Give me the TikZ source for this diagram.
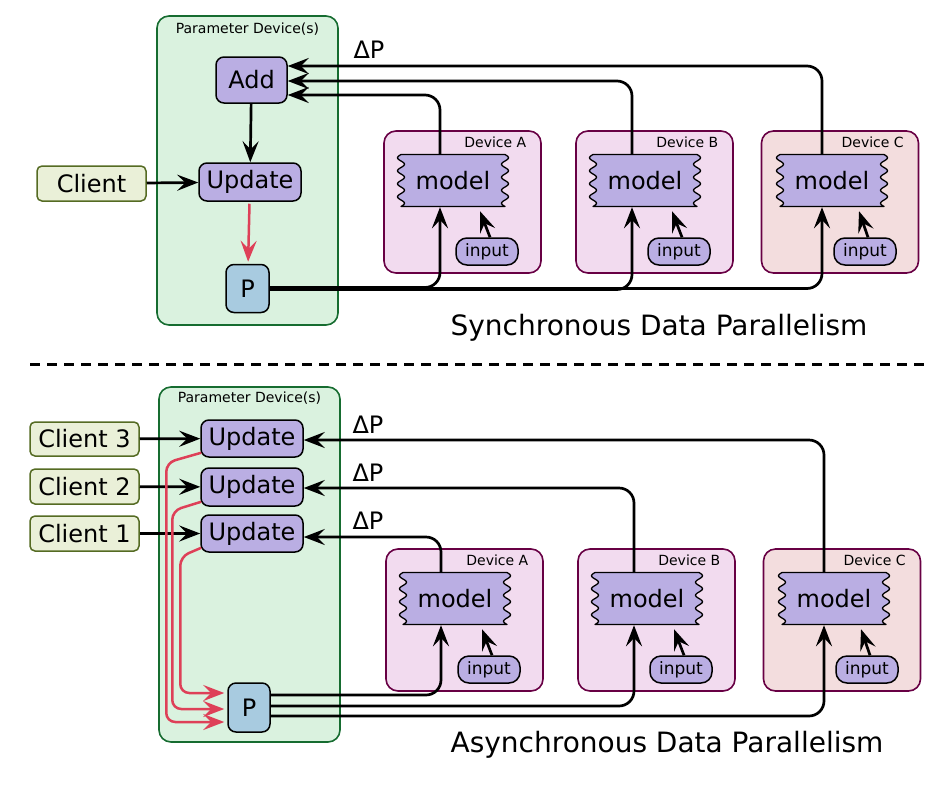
\documentclass[tikz,border=0pt]{standalone}
\usepackage{fontspec}
\setmainfont{DejaVu Sans}
\usetikzlibrary{arrows.meta,positioning}
\definecolor{pdevfill}{RGB}{218,242,223}
\definecolor{pdevdraw}{RGB}{22,108,48}
\definecolor{opfill}{RGB}{186,174,227}
\definecolor{pfill}{RGB}{168,203,224}
\definecolor{clientfill}{RGB}{234,240,216}
\definecolor{clientdraw}{RGB}{85,107,35}
\definecolor{devfill}{RGB}{242,219,239}
\definecolor{devcfill}{RGB}{243,221,222}
\definecolor{devdraw}{RGB}{104,0,68}
\definecolor{arrowred}{RGB}{222,64,88}
\tikzset{
  block/.style    = {shape=rectangle, rounded corners=8pt, draw, line width=1.5pt,
                     inner sep=0pt, font=\fontsize{24}{28}\selectfont},
  op/.style       = {block, fill=opfill, minimum width=102pt, minimum height=38pt},
  param/.style    = {block, fill=pfill, minimum width=43pt, minimum height=48pt},
  client/.style   = {block, fill=clientfill, draw=clientdraw, rounded corners=5pt,
                     minimum width=109pt, minimum height=35pt},
  pdevice/.style  = {shape=rectangle, rounded corners=12pt, draw=pdevdraw, fill=pdevfill,
                     line width=1.6pt, minimum width=181pt},
  device/.style   = {shape=rectangle, rounded corners=12pt, draw=devdraw, fill=devfill,
                     line width=1.6pt, minimum width=157pt, minimum height=142pt},
  inputbox/.style = {block, fill=opfill, rounded corners=11pt, minimum width=62pt,
                     minimum height=27pt, font=\fontsize{17}{20}\selectfont},
  smalllabel/.style = {font=\fontsize{14}{16}\selectfont},
  biglabel/.style = {font=\fontsize{24}{28}\selectfont},
  title/.style    = {font=\fontsize{28}{32}\selectfont},
  conn/.style     = {draw, line width=2.7pt, -{Stealth[length=21pt,width=16pt,inset=8pt]}},
  redconn/.style  = {conn, draw=arrowred, line width=2.5pt},
}
% model box with wavy sides
\newcommand\modelnode[3]{%
  \begin{scope}[shift={(#2,#3)}]
    \draw[fill=opfill, line width=1.3pt, line join=round] (-52,-26) -- (52,-26)
      -- plot[domain=-26:26, samples=61] ({52+3.5*sin(27.69*(\x+26))}, \x)
      -- (-52,26)
      -- plot[domain=26:-26, samples=61] ({-52-3.5*sin(27.69*(\x+26))}, \x) -- cycle;
  \end{scope}
  \node (#1) at (#2,#3) [biglabel, inner sep=0pt, minimum width=110pt, minimum height=53pt] {model};
}

\begin{document}
\begin{tikzpicture}[x=1pt, y=-1pt]
    \useasboundingbox (0,0) rectangle (945,785);

    % ---- synchronous ----
    \node [pdevice, minimum height=309pt] (pd1) at (247.5,170.5) {};
    \node [smalllabel] (pd1lbl) at ([yshift=-14pt]pd1.north) {Parameter Device(s)};
    \node [op, minimum width=71pt, minimum height=46pt] (add) at (251.5,80) {Add};
    \node [op] (upd) at (250,182) {Update};
    \node [param] (p1) at (247.5,288.5) {P};
    \node [client] (client) at (91.5,183.5) {Client};

    \node [device] (devA1) at (462.5,202) {};
    \node [device] (devB1) at (654.5,202) {};
    \node [device, fill=devcfill] (devC1) at (840,202) {};
    \node [smalllabel, anchor=east] (devA1lbl) at ([xshift=-12pt,yshift=-12pt]devA1.north east) {Device A};
    \node [smalllabel, anchor=east] (devB1lbl) at ([xshift=-12pt,yshift=-12pt]devB1.north east) {Device B};
    \node [smalllabel, anchor=east] (devC1lbl) at ([xshift=-12pt,yshift=-12pt]devC1.north east) {Device C};
    \modelnode{mA1}{453}{180.5}
    \modelnode{mB1}{645}{180.5}
    \modelnode{mC1}{832}{180.5}
    \node [inputbox] (inA1) at (487,251.5) {input};
    \node [inputbox] (inB1) at (679,251.5) {input};
    \node [inputbox] (inC1) at (865,251.5) {input};

    \draw [conn] (client) -- (upd);
    \draw [conn] (add) -- (upd);
    \draw [redconn, shorten <=2pt, shorten >=2pt] (upd) -- (p1);
    \draw [conn, rounded corners=15pt] ([xshift=-13pt]mA1.north) |- ([yshift=-15pt]add.east);
    \draw [conn, rounded corners=15pt] ([xshift=-13pt]mB1.north) |- ([yshift=-1pt]add.east);
    \draw [conn, rounded corners=15pt] ([xshift=-10pt]mC1.north) |- ([yshift=14pt]add.east);
    \draw [conn, rounded corners=15pt] ([yshift=1pt]p1.east) -| ([xshift=-13pt]mA1.south);
    \draw [conn, rounded corners=15pt] ([yshift=-1pt]p1.east) -| ([xshift=-13pt]mB1.south);
    \draw [conn, rounded corners=15pt] (p1.east) -| ([xshift=-10pt]mC1.south);
    \draw [conn] ([xshift=3pt]inA1.north) -- ([xshift=27pt,yshift=-4pt]mA1.south);
    \draw [conn] ([xshift=3pt]inB1.north) -- ([xshift=27pt,yshift=-4pt]mB1.south);
    \draw [conn] ([xshift=3pt]inC1.north) -- ([xshift=27pt,yshift=-4pt]mC1.south);
    \node [biglabel] (dp1) at (369,50) {ΔP};
    \node [title] (synctitle) at (659,328) {Synchronous Data Parallelism};

    \draw [line width=3pt, dash pattern=on 10pt off 7pt] (30,364) -- (930,364);

    % ---- asynchronous ----
    \node [pdevice, minimum height=355pt] (pd2) at (249.5,564.5) {};
    \node [smalllabel] (pd2lbl) at ([yshift=-12pt]pd2.north) {Parameter Device(s)};
    \node [op, minimum height=37pt] (upd3) at (252,438.5) {Update};
    \node [op] (upd2) at (252,487) {Update};
    \node [op, minimum height=37pt] (upd1) at (252,533.5) {Update};
    \node [param, minimum width=42pt, minimum height=49pt] (p2) at (249,707.5) {P};
    \node [client, minimum height=34pt] (client3) at (84.5,439) {Client 3};
    \node [client] (client2) at (84.5,486.5) {Client 2};
    \node [client] (client1) at (84.5,533.5) {Client 1};

    \node [device] (devA2) at (464.5,620) {};
    \node [device] (devB2) at (656.5,620) {};
    \node [device, fill=devcfill] (devC2) at (842,620) {};
    \node [smalllabel, anchor=east] (devA2lbl) at ([xshift=-12pt,yshift=-12pt]devA2.north east) {Device A};
    \node [smalllabel, anchor=east] (devB2lbl) at ([xshift=-12pt,yshift=-12pt]devB2.north east) {Device B};
    \node [smalllabel, anchor=east] (devC2lbl) at ([xshift=-12pt,yshift=-12pt]devC2.north east) {Device C};
    \modelnode{mA2}{455}{598.5}
    \modelnode{mB2}{647}{598.5}
    \modelnode{mC2}{834}{598.5}
    \node [inputbox] (inA2) at (489,669.5) {input};
    \node [inputbox] (inB2) at (681,669.5) {input};
    \node [inputbox] (inC2) at (867,669.5) {input};

    \draw [conn] (client3) -- (upd3);
    \draw [conn] (client2) -- (upd2);
    \draw [conn] (client1) -- (upd1);
    \draw [redconn, rounded corners=9pt, shorten >=3pt] ([xshift=1pt,yshift=5pt]upd3.south west)
        -- ++(-35,10) |- ([yshift=-14.5pt]p2.west);
    \draw [redconn, rounded corners=9pt, shorten >=3pt] ([xshift=1pt,yshift=5pt]upd2.south west)
        -- ++(-29,9) |- ([yshift=-1.5pt]p2.west);
    \draw [redconn, rounded corners=9pt, shorten >=3pt] ([xshift=1pt,yshift=5pt]upd1.south west)
        -- ++(-21,9) |- ([yshift=14.5pt]p2.west);
    \draw [conn, rounded corners=15pt] ([xshift=-14pt]mA2.north) |- ([yshift=-3.5pt]upd1.east);
    \draw [conn, rounded corners=15pt] ([xshift=-13pt]mB2.north) |- ([yshift=-1pt]upd2.east);
    \draw [conn, rounded corners=15pt] ([xshift=-10pt]mC2.north) |- ([yshift=-1.5pt]upd3.east);
    \draw [conn, rounded corners=15pt] ([yshift=12.5pt]p2.east) -| ([xshift=-14pt]mA2.south);
    \draw [conn, rounded corners=15pt] ([yshift=1.5pt]p2.east) -| ([xshift=-13pt]mB2.south);
    \draw [conn, rounded corners=15pt] ([yshift=-8.5pt]p2.east) -| ([xshift=-10pt]mC2.south);
    \draw [conn] ([xshift=3pt]inA2.north) -- ([xshift=27pt,yshift=-4pt]mA2.south);
    \draw [conn] ([xshift=3pt]inB2.north) -- ([xshift=27pt,yshift=-4pt]mB2.south);
    \draw [conn] ([xshift=3pt]inC2.north) -- ([xshift=27pt,yshift=-4pt]mC2.south);
    \node [biglabel] (dp3) at (368,425) {ΔP};
    \node [biglabel] (dp2) at (368,473) {ΔP};
    \node [biglabel] (dp1b) at (368,521) {ΔP};
    \node [title] (asynctitle) at (667,745) {Asynchronous Data Parallelism};
\end{tikzpicture}
\end{document}
